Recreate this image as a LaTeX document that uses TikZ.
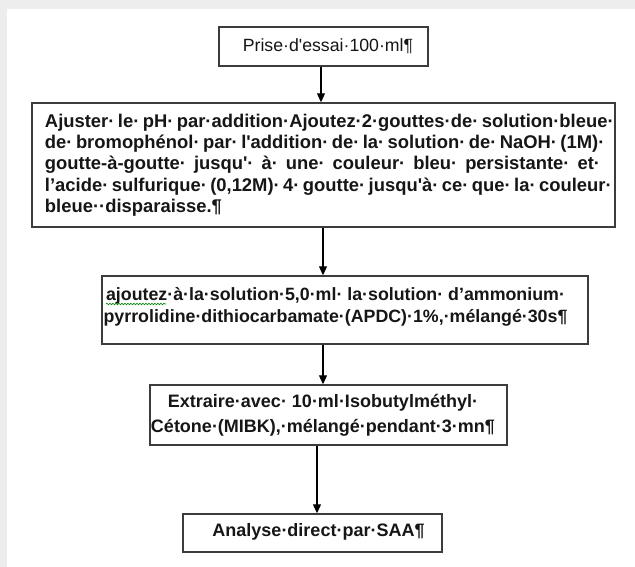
\documentclass[tikz,border=0pt]{standalone}
\usepackage{fontspec}
\newfontfamily\arial{Liberation Sans}
\usetikzlibrary{arrows.meta,decorations.pathmorphing}
\definecolor{boxgray}{HTML}{3C3C3C}
\definecolor{ink}{HTML}{161616}
\definecolor{pagegray}{HTML}{EDEDED}
\begin{document}
\begin{tikzpicture}[x=1pt,y=-1pt,
  stepbox/.style={draw=boxgray,line width=1.4pt,inner sep=0pt,fill=white},
  steptext/.style={inner sep=0pt,text=ink},
  bodyfont/.style={font=\arial\bfseries\fontsize{18.4}{21.3}\selectfont},
  flow/.style={draw=black,line width=1.1pt,-{Triangle[length=9pt,width=8pt]}}]
% page frame
\useasboundingbox (0,0) rectangle (635,567);
\fill[pagegray] (0,0) rectangle (635,567);
\fill[white] (7,9) rectangle (635,567);

% boxes
\node[stepbox,minimum width=209pt,minimum height=39pt] (b1) at (323.5,46.5) {};
\node[stepbox,minimum width=583pt,minimum height=124pt] (b2) at (323.5,165) {};
\node[stepbox,minimum width=486pt,minimum height=68pt] (b3) at (345,310) {};
\node[stepbox,minimum width=357pt,minimum height=60pt] (b4) at (328.5,415) {};
\node[stepbox,minimum width=259pt,minimum height=38pt] (b5) at (312.5,533) {};

% texts
\node[steptext,font=\arial\fontsize{17.7}{21}\selectfont] (t1) at (328,46.5) {Prise·d'essai·100·ml¶};
\node[steptext,bodyfont,align=left] (t2) at (322.5,165) {%
\makebox[555pt][s]{Ajuster· le· pH· par·addition·Ajoutez·2·gouttes·de· solution·bleue·}\\
\makebox[555pt][s]{de· bromophénol· par· l'addition· de· la· solution· de· NaOH· (1M)·}\\
\makebox[555pt][s]{goutte-à-goutte· jusqu'· à· une· couleur· bleu· persistante· et·}\\
\makebox[555pt][s]{l’acide· sulfurique· (0,12M)· 4· goutte· jusqu'à· ce· que· la· couleur·}\\
bleue··disparaisse.¶};
\node[steptext,font=\arial\bfseries\fontsize{17.8}{22}\selectfont,align=center] (t3) at (335.5,307)
  {ajoutez·à·la·solution·5,0·ml· la·solution· d’ammonium·\\
   pyrrolidine·dithiocarbamate·(APDC)·1\%,·mélangé·30s¶};
\node[steptext,font=\arial\bfseries\fontsize{18}{25}\selectfont,align=center] (t4) at (323,415.5)
  {Extraire·avec· 10·ml·Isobutylméthyl·\\
   Cétone·(MIBK),·mélangé·pendant·3·mn¶};
\node[steptext,font=\arial\bfseries\fontsize{18}{21}\selectfont] (t5) at (318.5,532) {Analyse·direct·par·SAA¶};

% spelling mark under the first word
\draw[green!55!black,line width=0.6pt,decorate,decoration={snake,amplitude=0.8pt,segment length=3pt}]
  (106,304) -- (166,304);

% connectors
\coordinate (x1) at (321,0);
\coordinate (x2) at (323,0);
\coordinate (x3) at (323,0);
\coordinate (x4) at (317,0);
\draw[flow] (b1.south -| x1) -- (b2.north -| x1);
\draw[flow] (b2.south -| x2) -- (b3.north -| x2);
\draw[flow] (b3.south -| x3) -- (b4.north -| x3);
\draw[flow] (b4.south -| x4) -- (b5.north -| x4);
\end{tikzpicture}
\end{document}
